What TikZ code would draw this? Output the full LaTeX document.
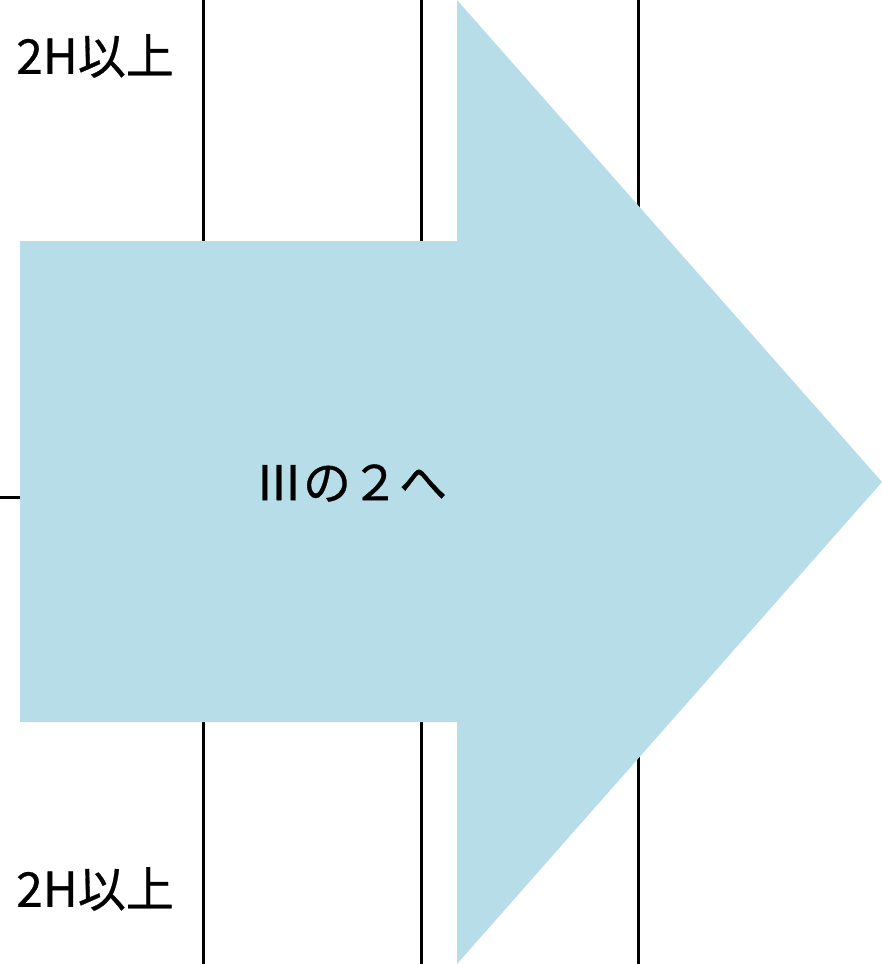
\documentclass[tikz,border=0pt]{standalone}
\usepackage{fontspec}
\newfontfamily\jp{Noto Sans CJK JP}[FakeBold=0.6]
\definecolor{arrowblue}{RGB}{183,221,232}
\begin{document}
\begin{tikzpicture}[x=1pt,y=-1pt,
  rule/.style={draw=black,line width=3pt},
  lbl/.style={font=\jp\fontsize{48}{48}\selectfont,inner sep=0pt,text=black},
  arrowtext/.style={font=\jp\fontsize{48}{48}\selectfont,inner sep=0pt,text=black}]
\useasboundingbox (0,0) rectangle (882,964);
% vertical rules
\coordinate (l1t) at (203,0); \coordinate (l1b) at (203,964);
\coordinate (l2t) at (421,0); \coordinate (l2b) at (421,964);
\coordinate (l3t) at (638,0); \coordinate (l3b) at (638,964);
\coordinate (tk1) at (0,497); \coordinate (tk2) at (22,497);
\draw[rule] (l1t) -- (l1b);
\draw[rule] (l2t) -- (l2b);
\draw[rule] (l3t) -- (l3b);
\draw[rule] (tk1) -- (tk2);
% big arrow
\fill[arrowblue] (20,241) -- (457,241) -- (457,0) -- (882,482) -- (457,964) -- (457,722) -- (20,722) -- cycle;
\node[arrowtext] (mid) at (351,483) {Ⅲの２へ};
\node[lbl] (top) at (95,56) {2H以上};
\node[lbl] (bot) at (95,889) {2H以上};
\end{tikzpicture}
\end{document}
